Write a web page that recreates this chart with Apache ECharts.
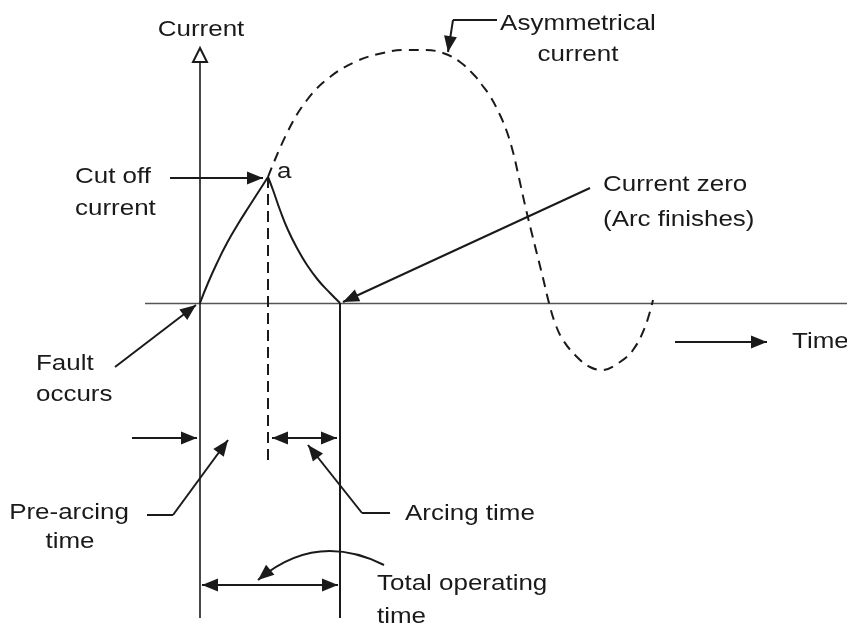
<!DOCTYPE html>
<html><head><meta charset="utf-8">
<script src="https://cdn.jsdelivr.net/npm/echarts@6/dist/echarts.min.js"></script>
<style>html,body{margin:0;padding:0;background:#fff}#c{width:847px;height:630px}</style>
</head><body><div id="c"></div>
<script>
// Diagram units: x = time (0 = fault instant), y = current (0 = zero-current line)
const preArcingCurve = [[0,0],[8,20],[17,40],[27,60],[38,79],[50,98],[59,112],[68,126]];
const arcingCurve = [[68,126],[73,113],[80,93],[88,73],[97,55],[107,38],[118,23],[130,10],[140,0]];
const asymmetricalCurve = [[68,126],[87,170],[107,203],[130,226],[157,242],[183,250],[205,253],[225,253],[243,250],[260,241],[275,227],[282,218],[290,207],[300,188],[307,171],[313,151],[319,125],[325,98],[331,73],[337,49],[343,25],[349,0],[355,-20],[363,-37],[377,-54],[390,-64],[402,-67],[420,-59],[433,-47],[445,-24],[453,3]];

const currentAxis = [[0,-315],[0,255]];
const timeAxis = [[-55,0],[647,0]];
const cutOffMarker = [[68,126],[68,-162]];
const plainSegments = [
  [[140,0],[140,-315]],
  [[297,283],[253,283]],
  [[-53,-212],[-27,-212]],
  [[190,-210],[162,-210]]
];
const arrowSegments = [
  [[-30,125],[63,125]],
  [[253,283],[248,251]],
  [[390,115],[143,1]],
  [[-85,-64],[-4,-2]],
  [[-68,-135],[-3,-135]],
  [[-27,-212],[28,-137]],
  [[162,-210],[108,-142]],
  [[475,-39],[567,-39]]
];
const doubleArrowSegments = [
  [[72,-135],[137,-135]],
  [[2,-282],[138,-282]]
];
const curvedArrowSegments = [
  [[184,-262],[58,-277]]
];
const labelTexts = ['Current','Asymmetrical','current','a','Cut off','current','Current zero','(Arc finishes)','Fault','occurs','Time','Pre-arcing','time','Arcing time','Total operating','time'];
const labelAnchors = [[1,273],[378,279],[378,248],[77,131],[-125,126],[-125,94],[403,118],[403,83],[-164,-61],[-164,-92],[592,-39],[-131,-210],[-130,-239],[205,-211],[177,-281],[177,-314]];
const labelAligns = ['center','center','center','left','left','left','left','left','left','left','left','center','center','left','left','left'];

const INK = '#1a1a1a';
const ARROW = 'path://M5,14 L10,28 L0,28 Z M5,0';
const HOLLOW = 'emptyPath://M5,14 L10,28 L0,28 Z M5,0';
const HEAD = [13,32];

const chart = echarts.init(document.getElementById('c'), null, {renderer:'canvas'});
const toLines = segs => segs.map(s => ({coords: s}));
chart.setOption({
  animation: false,
  backgroundColor: '#fff',
  grid: {left:0, right:0, top:0, bottom:0},
  xAxis: {type:'value', min:-200, max:647, show:false},
  yAxis: {type:'value', min:-327, max:303, show:false},
  series: [
    {type:'line', data: preArcingCurve, smooth:0.5, showSymbol:false, lineStyle:{color:INK, width:2}},
    {type:'line', data: arcingCurve, smooth:0.5, showSymbol:false, lineStyle:{color:INK, width:2}},
    {type:'line', data: asymmetricalCurve, smooth:0.4, showSymbol:false, lineStyle:{color:INK, width:2, type:[10,7]}},
    {type:'lines', coordinateSystem:'cartesian2d', data: toLines([timeAxis]), symbol:'none', lineStyle:{color:'#555', width:1.3, opacity:1}},
    {type:'lines', coordinateSystem:'cartesian2d', data: toLines([cutOffMarker]), symbol:'none', lineStyle:{color:INK, width:2, type:[11,6], opacity:1}},
    {type:'lines', coordinateSystem:'cartesian2d', data: toLines(plainSegments), symbol:'none', lineStyle:{color:INK, width:2, opacity:1}},
    {type:'lines', coordinateSystem:'cartesian2d', data: toLines([currentAxis]), symbol:['none', HOLLOW], symbolSize:[[14,28],[14,28]], lineStyle:{color:INK, width:1.6, opacity:1}},
    {type:'lines', coordinateSystem:'cartesian2d', data: toLines(arrowSegments), symbol:['none', ARROW], symbolSize:[HEAD, HEAD], lineStyle:{color:INK, width:2, opacity:1}},
    {type:'lines', coordinateSystem:'cartesian2d', data: toLines(doubleArrowSegments), symbol:[ARROW, ARROW], symbolSize:[HEAD, HEAD], lineStyle:{color:INK, width:2, opacity:1}},
    {type:'lines', coordinateSystem:'cartesian2d', data: toLines(curvedArrowSegments), symbol:['none', ARROW], symbolSize:[HEAD, HEAD], lineStyle:{color:INK, width:2, curveness:-0.33, opacity:1}}
  ]
});

const graphics = labelTexts.map((t, i) => {
  const p = chart.convertToPixel({gridIndex:0}, labelAnchors[i]);
  return {
    type:'text', x:p[0], y:p[1], scaleX:1.18,
    style:{text:t, font:'22px "Liberation Sans", Arial, sans-serif', fill:INK,
      align:labelAligns[i], verticalAlign:'middle', textAlign:labelAligns[i], textVerticalAlign:'middle'}
  };
});
chart.setOption({graphic: graphics});
</script>
</body></html>
